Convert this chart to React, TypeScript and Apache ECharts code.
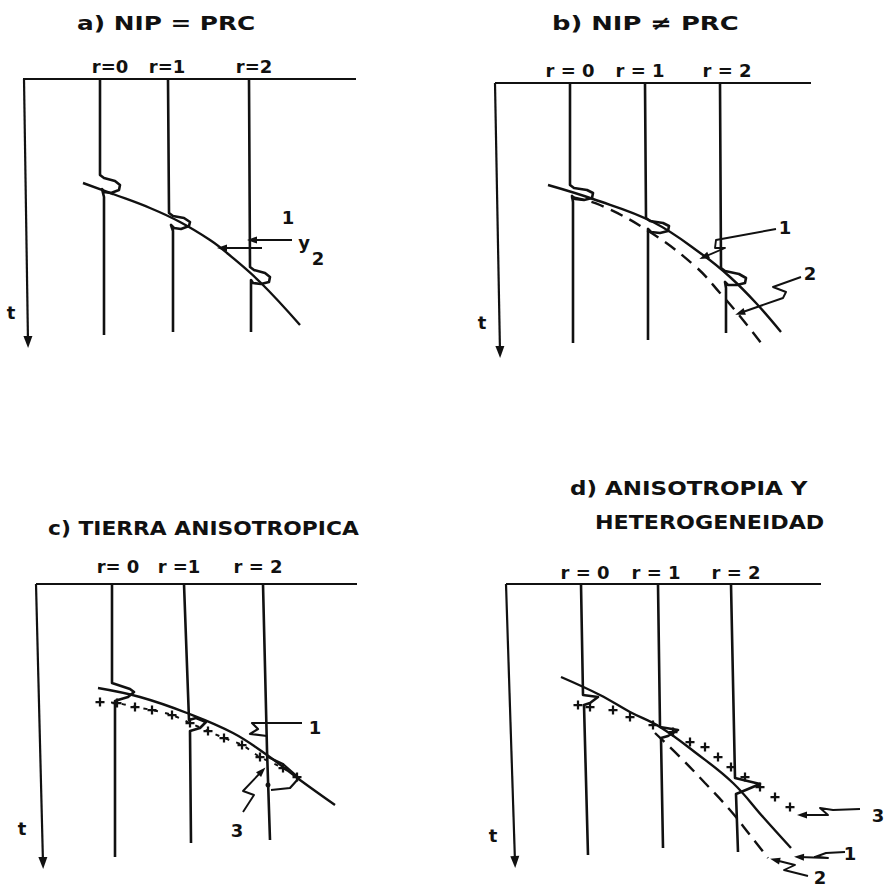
import React, { useEffect, useRef } from 'react';
import * as echarts from 'echarts';

type P = [number, number];
type L = { text: string; at: P };

// ---------- Panel a) NIP = PRC  (x: offset from t-axis, t: time below surface line) ----------
const aSurface: P[] = [[0, 0], [333, 0]];
const aTimeAxis: P[] = [[1, 0], [5, 263]];
const aTraceR0: P[] = [[77, 0], [77, 96], [81, 99], [92, 102], [97, 106], [96, 111], [88, 114], [81, 113], [79, 110], [81, 118], [81, 256]];
const aTraceR1: P[] = [[145, 0], [146, 134], [150, 137], [161, 139], [167, 143], [166, 147], [158, 150], [151, 149], [148, 146], [150, 152], [150, 253]];
const aTraceR2: P[] = [[226, 0], [227, 188], [231, 191], [242, 194], [247, 198], [246, 203], [238, 205], [230, 204], [228, 201], [228, 208], [228, 253]];
const aSolid: P[] = [[60, 104], [90, 115], [127, 129], [157, 143], [187, 161], [204, 174], [237, 203], [277, 246]];
const aArrow1: P[] = [[269, 161], [229, 161]];
const aArrow2: P[] = [[239, 169], [199, 169]];
const aTraceLabels: L[] = [{ text: 'r=0', at: [87, -13] }, { text: 'r=1', at: [144, -13] }, { text: 'r=2', at: [231, -13] }];
const aMarkLabels: L[] = [{ text: '1', at: [265, 138] }, { text: 'y', at: [281, 163] }, { text: '2', at: [295, 179] }, { text: 't', at: [-12, 233] }];

// ---------- Panel b) NIP ≠ PRC ----------
const bSurface: P[] = [[0, 0], [316, 0]];
const bTimeAxis: P[] = [[0, 0], [5, 269]];
const bTraceR0: P[] = [[75, 0], [75, 102], [79, 105], [92, 107], [98, 110], [97, 115], [89, 117], [80, 116], [77, 113], [78, 119], [78, 260]];
const bTraceR1: P[] = [[150, 0], [151, 135], [155, 138], [168, 140], [174, 143], [173, 148], [165, 150], [156, 149], [153, 146], [153, 152], [153, 257]];
const bTraceR2: P[] = [[225, 0], [226, 185], [230, 188], [244, 191], [251, 195], [250, 200], [242, 202], [233, 202], [230, 199], [231, 205], [231, 250]];
const bSolid: P[] = [[53, 102], [98, 116], [158, 139], [208, 172], [235, 194], [261, 220], [286, 249]];
const bDashed: P[] = [[76, 114], [105, 122], [155, 149], [201, 184], [225, 210], [248, 237], [270, 265]];
const bArrow1: P[] = [[281, 146], [221, 157], [220, 165], [230, 165], [209, 174]];
const bArrow2: P[] = [[306, 194], [278, 204], [291, 209], [288, 215], [245, 230]];
const bTraceLabels: L[] = [{ text: 'r = 0', at: [75, -13] }, { text: 'r = 1', at: [145, -13] }, { text: 'r = 2', at: [232, -13] }];
const bMarkLabels: L[] = [{ text: '1', at: [290, 144] }, { text: '2', at: [315, 190] }, { text: 't', at: [-13, 239] }];

// ---------- Panel c) TIERRA ANISOTROPICA ----------
const cSurface: P[] = [[0, 0], [321, 0]];
const cTimeAxis: P[] = [[0, 0], [7, 279]];
const cTraceR0: P[] = [[76, 0], [76, 99], [82, 101], [94, 105], [98, 108], [92, 113], [82, 116], [79, 117], [79, 273]];
const cTraceR1: P[] = [[148, 0], [153, 136], [160, 134], [170, 138], [164, 144], [154, 147], [155, 259]];
const cTraceR2: P[] = [[227, 0], [231, 166], [234, 256]];
const cSolid: P[] = [[62, 104], [104, 113], [151, 129], [197, 149], [231, 171], [264, 196], [299, 221]];
const cCrosses: P[] = [[64, 118], [81, 119], [99, 123], [116, 126], [136, 131], [154, 139], [172, 147], [188, 154], [206, 161], [224, 173], [247, 184], [261, 193]];
const cArrow1: P[] = [[266, 139], [216, 139], [222, 145], [214, 150], [231, 152]];
const cLoop: P[] = [[232, 173], [247, 180], [263, 194], [254, 204], [235, 206]];
const cArrow3: P[] = [[207, 228], [218, 211], [207, 207], [226, 187]];
const cDots: P[] = [[232, 201]];
const cTraceLabels: L[] = [{ text: 'r= 0', at: [82, -18] }, { text: 'r =1', at: [143, -18] }, { text: 'r = 2', at: [222, -18] }];
const cMarkLabels: L[] = [{ text: '1', at: [279, 143] }, { text: '3', at: [201, 246] }, { text: 't', at: [-14, 244] }];

// ---------- Panel d) ANISOTROPIA Y HETEROGENEIDAD ----------
const dSurface: P[] = [[0, 0], [315, 0]];
const dTimeAxis: P[] = [[0, 0], [9, 278]];
const dTraceR0: P[] = [[75, 0], [77, 111], [92, 113], [84, 119], [78, 121], [82, 271]];
const dTraceR1: P[] = [[152, 0], [154, 143], [172, 146], [162, 152], [155, 154], [157, 264]];
const dTraceR2: P[] = [[225, 0], [229, 194], [254, 200], [235, 208], [230, 210], [232, 268]];
const dSolid: P[] = [[55, 93], [94, 111], [124, 128], [154, 143], [190, 169], [227, 199], [257, 233], [285, 264]];
const dDashed: P[] = [[149, 149], [174, 173], [199, 199], [224, 226], [244, 251], [262, 274]];
const dCrosses: P[] = [[72, 121], [84, 123], [107, 126], [124, 133], [147, 141], [167, 148], [184, 158], [199, 163], [212, 173], [225, 183], [239, 193], [254, 203], [269, 213], [284, 223]];
const dArrow3: P[] = [[354, 225], [327, 226], [314, 224], [322, 231], [296, 231]];
const dArrow1: P[] = [[339, 268], [320, 269], [309, 273], [322, 274], [293, 273]];
const dArrow2: P[] = [[302, 292], [278, 286], [289, 281], [269, 276]];
const dTraceLabels: L[] = [{ text: 'r = 0', at: [79, -12] }, { text: 'r = 1', at: [150, -12] }, { text: 'r = 2', at: [230, -12] }];
const dMarkLabels: L[] = [{ text: '3', at: [372, 231] }, { text: '1', at: [344, 269] }, { text: '2', at: [314, 293] }, { text: 't', at: [-13, 251] }];

// ---------- Titles ----------
const titles: { text: string; x: number; y: number; sx: number }[] = [
  { text: 'a) NIP = PRC', x: 77, y: 23, sx: 1.24 },
  { text: 'b) NIP ≠ PRC', x: 552, y: 23, sx: 1.29 },
  { text: 'c) TIERRA ANISOTROPICA', x: 48, y: 528, sx: 1.09 },
  { text: 'd) ANISOTROPIA Y', x: 570, y: 488, sx: 1.15 },
  { text: 'HETEROGENEIDAD', x: 595, y: 522, sx: 1.11 },
];

interface Panel {
  box: { left: number; top: number; width: number; height: number };
  frame: P[][];
  traces: P[][];
  solid: P[][];
  dashed: P[][];
  crosses: P[];
  crossLink: boolean;
  plain: P[][];
  arrows: P[][];
  dots: P[];
  traceLabels: L[];
  markLabels: L[];
}

const panels: Panel[] = [
  {
    box: { left: 23, top: 79, width: 345, height: 275 },
    frame: [aSurface, aTimeAxis], traces: [aTraceR0, aTraceR1, aTraceR2], solid: [aSolid], dashed: [],
    crosses: [], crossLink: false, plain: [], arrows: [aArrow1, aArrow2], dots: [],
    traceLabels: aTraceLabels, markLabels: aMarkLabels,
  },
  {
    box: { left: 495, top: 83, width: 340, height: 280 },
    frame: [bSurface, bTimeAxis], traces: [bTraceR0, bTraceR1, bTraceR2], solid: [bSolid], dashed: [bDashed],
    crosses: [], crossLink: false, plain: [], arrows: [bArrow1, bArrow2], dots: [],
    traceLabels: bTraceLabels, markLabels: bMarkLabels,
  },
  {
    box: { left: 36, top: 584, width: 345, height: 285 },
    frame: [cSurface, cTimeAxis], traces: [cTraceR0, cTraceR1, cTraceR2], solid: [cSolid], dashed: [],
    crosses: cCrosses, crossLink: true, plain: [cArrow1, cLoop], arrows: [cArrow3], dots: cDots,
    traceLabels: cTraceLabels, markLabels: cMarkLabels,
  },
  {
    box: { left: 506, top: 584, width: 380, height: 300 },
    frame: [dSurface, dTimeAxis], traces: [dTraceR0, dTraceR1, dTraceR2], solid: [dSolid], dashed: [dDashed],
    crosses: dCrosses, crossLink: false, plain: [], arrows: [dArrow3, dArrow1, dArrow2], dots: [],
    traceLabels: dTraceLabels, markLabels: dMarkLabels,
  },
];

const INK = '#111111';
const CROSS = 'path://M3,0H5V3H8V5H5V8H3V5H0V3H3Z';

function headOf(pts: P[]) {
  const [x1, y1] = pts[pts.length - 2];
  const [x2, y2] = pts[pts.length - 1];
  const ang = (Math.atan2(-(y2 - y1), x2 - x1) * 180) / Math.PI;
  return { value: [x2, y2], symbolRotate: ang - 90 };
}

function labelSeries(ax: any, items: L[], fontSize: number) {
  return {
    type: 'scatter', ...ax, symbol: 'circle', symbolSize: 1,
    itemStyle: { color: 'rgba(0,0,0,0)', opacity: 1 },
    label: {
      show: true, position: 'inside', formatter: '{b}', color: INK, opacity: 1,
      fontSize, fontFamily: 'DejaVu Sans', fontWeight: 'bold', textBorderWidth: 0,
    },
    data: items.map((l) => ({ name: l.text, value: l.at })),
  };
}

function buildOption() {
  const grid: any[] = [];
  const xAxis: any[] = [];
  const yAxis: any[] = [];
  const series: any[] = [];
  panels.forEach((p, i) => {
    grid.push({ ...p.box, containLabel: false, show: false });
    xAxis.push({ type: 'value', gridIndex: i, min: 0, max: p.box.width, show: false });
    yAxis.push({ type: 'value', gridIndex: i, min: 0, max: p.box.height, inverse: true, show: false });
    const ax = { xAxisIndex: i, yAxisIndex: i, clip: false, silent: true };
    const line = (data: P[], lineStyle: any, extra: any = {}) =>
      series.push({ type: 'line', ...ax, data, symbol: 'none', lineStyle: { color: INK, ...lineStyle }, ...extra });

    p.frame.forEach((d) => line(d, { width: 2.2 }));
    p.traces.forEach((d) => line(d, { width: 2.6, join: 'round' }));
    p.solid.forEach((d) => line(d, { width: 2.4 }, { smooth: 0.4 }));
    p.dashed.forEach((d) => line(d, { width: 2.4, type: [13, 8] }, { smooth: 0.4 }));
    p.plain.forEach((d) => line(d, { width: 2.2, join: 'round' }));
    p.arrows.forEach((d) => line(d, { width: 1.9, join: 'round' }));
    if (p.crosses.length) {
      series.push({
        type: 'line', ...ax, data: p.crosses, smooth: 0.3,
        symbol: CROSS, symbolSize: 9, showSymbol: true,
        itemStyle: { color: INK, opacity: 1 },
        lineStyle: p.crossLink ? { color: INK, width: 2, type: [4, 7] } : { width: 0, opacity: 0 },
      });
    }
    const heads = [headOf(p.frame[1]), ...p.arrows.map(headOf)];
    series.push({
      type: 'scatter', ...ax, symbol: 'triangle',
      data: heads.map((h, k) => ({ ...h, symbolSize: k === 0 ? [9, 12] : [7, 10] })),
      itemStyle: { color: INK, opacity: 1 },
    });
    if (p.dots.length) {
      series.push({ type: 'scatter', ...ax, symbol: 'circle', symbolSize: 5, data: p.dots, itemStyle: { color: INK, opacity: 1 } });
    }
    series.push(labelSeries(ax, p.traceLabels, 18));
    series.push(labelSeries(ax, p.markLabels, 18));
  });

  const graphic = titles.map((t) => ({
    type: 'text', x: t.x, y: t.y, scaleX: t.sx, silent: true,
    style: {
      text: t.text, fill: INK, font: 'bold 20px "DejaVu Sans"',
      textAlign: 'left', textVerticalAlign: 'middle', verticalAlign: 'middle',
    },
  }));

  return {
    animation: false,
    backgroundColor: '#ffffff',
    grid, xAxis, yAxis, series, graphic,
  };
}

export default function App() {
  const ref = useRef<HTMLDivElement>(null);
  useEffect(() => {
    if (!ref.current) return;
    const chart = echarts.init(ref.current, undefined, { renderer: 'svg' });
    chart.setOption(buildOption() as any);
    return () => chart.dispose();
  }, []);
  return (
    <div
      ref={ref}
      style={{ position: 'fixed', left: 0, top: 0, width: 886, height: 895, background: '#fff' }}
    />
  );
}
